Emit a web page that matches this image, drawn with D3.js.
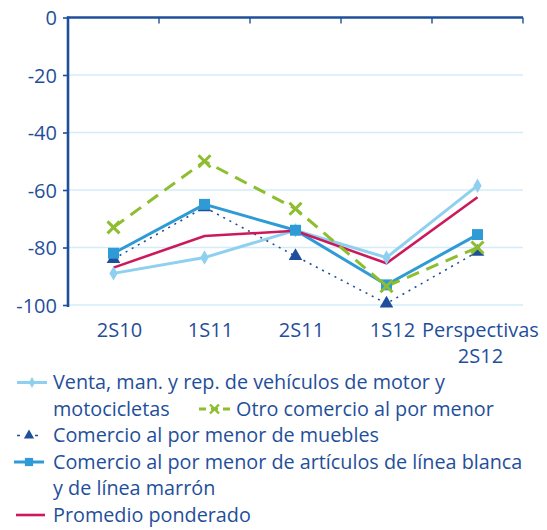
<!DOCTYPE html>
<html>
<head>
<meta charset="utf-8">
<script src="https://cdn.jsdelivr.net/npm/d3@7"></script>
<style>
  html, body { margin: 0; padding: 0; background: #fff; }
  svg { display: block; font-family: "Open Sans", Lato, sans-serif; }
</style>
</head>
<body>
<svg id="chart" width="547" height="530"></svg>
<script>
// Periods on the category axis
const categories = ["2S10", "1S11", "2S11", "1S12", "Perspectivas 2S12"];
const categoryLines = [["2S10"], ["1S11"], ["2S11"], ["1S12"], ["Perspectivas", "2S12"]];

// Balance values per series
const vehiculos = [-89, -83.5, -74, -83.5, -58.5];
const otroComercio = [-73, -50, -66.5, -93.5, -80];
const muebles = [-84, -66, -83, -99.5, -81.5];
const lineaBlanca = [-82, -65, -74, -93, -75.5];
const promedio = [-87, -76, -74.2, -85.5, -62.5];

const yTicks = [0, -20, -40, -60, -80, -100];

const textColor = "#1f4f9a";

const series = [
  { key: "vehiculos", values: vehiculos, color: "#8fd0f1", width: 3, dash: null, marker: "diamond" },
  { key: "muebles", values: muebles, color: "#1f4f9a", width: 1.6, dash: "2,5", marker: "triangle" },
  { key: "blanca", values: lineaBlanca, color: "#2e9bd6", width: 3, dash: null, marker: "square" },
  { key: "promedio", values: promedio, color: "#cc195b", width: 2.6, dash: null, marker: null },
  { key: "otro", values: otroComercio, color: "#8cbe2f", width: 3, dash: "13,8", marker: "cross" }
];
const byKey = Object.fromEntries(series.map(s => [s.key, s]));

const svg = d3.select("#chart");

const x = d3.scaleBand().domain(categories).range([68, 523]);
const y = d3.scaleLinear().domain([-100, 0]).range([305, 17.5]);
const cx = c => x(c) + x.bandwidth() / 2;

// Horizontal gridlines
svg.append("g").selectAll("line")
  .data(yTicks.filter(t => t !== 0))
  .join("line")
  .attr("x1", x.range()[0]).attr("x2", x.range()[1])
  .attr("y1", d => y(d)).attr("y2", d => y(d))
  .attr("stroke", "#d3ecf9").attr("stroke-width", 1.5);

// Value axis on the left
const yAxis = svg.append("g")
  .attr("transform", `translate(${x.range()[0]},0)`)
  .call(d3.axisLeft(y).tickValues(yTicks).tickSize(5).tickPadding(6));
yAxis.select(".domain").attr("stroke", textColor).attr("stroke-width", 2.6)
  .attr("d", "M0," + (y(0) - 1) + "V" + (y(-100) + 2));
yAxis.selectAll(".tick line").attr("stroke", textColor).attr("stroke-width", 1.6);
yAxis.selectAll(".tick text")
  .attr("fill", textColor).attr("font-size", 20).attr("font-family", "Open Sans, sans-serif")
  .attr("dy", "0.36em").text(d => d === 0 ? "0" : "-" + Math.abs(d));

// Category axis drawn at zero (top), ticks between bands
const catBounds = categories.map(c => x(c)).concat([x.range()[1]]);
svg.append("line")
  .attr("x1", x.range()[0] - 1).attr("x2", x.range()[1])
  .attr("y1", y(0)).attr("y2", y(0))
  .attr("stroke", textColor).attr("stroke-width", 2.6);
svg.append("g").selectAll("line")
  .data(catBounds.slice(1))
  .join("line")
  .attr("x1", d => d).attr("x2", d => d)
  .attr("y1", y(0)).attr("y2", y(0) + 6)
  .attr("stroke", textColor).attr("stroke-width", 1.4);

// Category labels below the plot
const labels = svg.append("g").attr("fill", textColor).attr("font-size", 20).attr("text-anchor", "middle");
categories.forEach((c, i) => {
  const lx = cx(c) + (i === 4 ? 3 : 6);
  const t = labels.append("text").attr("x", lx).attr("y", 337);
  categoryLines[i].forEach((ln, j) => {
    t.append("tspan").attr("x", lx).attr("dy", j === 0 ? 0 : 26).text(ln);
  });
});

// Marker shapes
function drawMarker(g, type, color, px, py, scale) {
  const s = scale || 1;
  if (type === "diamond") {
    g.append("path").attr("d", d3.symbol(d3.symbolDiamond, 60 * s * s)()).attr("transform", `translate(${px},${py})`).attr("fill", color);
  } else if (type === "triangle") {
    g.append("path").attr("d", d3.symbol(d3.symbolTriangle, 80 * s * s)()).attr("transform", `translate(${px},${py})`).attr("fill", color);
  } else if (type === "square") {
    g.append("path").attr("d", d3.symbol(d3.symbolSquare, 120 * s * s)()).attr("transform", `translate(${px},${py})`).attr("fill", color);
  } else if (type === "cross") {
    const r = 6 * s;
    g.append("path").attr("d", `M${px - r},${py - r}L${px + r},${py + r}M${px - r},${py + r}L${px + r},${py - r}`)
      .attr("stroke", color).attr("stroke-width", 3 * Math.max(s, 0.8)).attr("fill", "none");
  }
}

const line = d3.line().x((d, i) => cx(categories[i])).y(d => y(d));
const plot = svg.append("g");

series.forEach(s => {
  plot.append("path")
    .attr("d", line(s.values))
    .attr("fill", "none")
    .attr("stroke", s.color)
    .attr("stroke-width", s.width)
    .attr("stroke-dasharray", s.dash)
    .attr("stroke-linejoin", "miter");
});
series.forEach(s => {
  if (!s.marker) return;
  const g = plot.append("g");
  s.values.forEach((v, i) => drawMarker(g, s.marker, s.color, cx(categories[i]), y(v)));
});

// Legend
const legend = svg.append("g").attr("font-size", 19.8).attr("fill", textColor);

function legendKey(s, x0, x1, yy) {
  const g = legend.append("g");
  g.append("line").attr("x1", x0).attr("x2", x1).attr("y1", yy).attr("y2", yy)
    .attr("stroke", s.color).attr("stroke-width", s.width)
    .attr("stroke-dasharray", s.dash ? (s.marker === "triangle" ? "3,6" : "7,5") : null);
  if (s.marker) drawMarker(g, s.marker, s.color, (x0 + x1) / 2, yy, 0.75);
}

const baselines = [389, 415.5, 442, 468.5, 495, 521.5];
const keyY = b => b - 6.5;

legendKey(byKey.vehiculos, 17, 47, keyY(baselines[0]));
legend.append("text").attr("x", 53).attr("y", baselines[0]).text("Venta, man. y rep. de vehículos de motor y");
legend.append("text").attr("x", 53).attr("y", baselines[1]).text("motocicletas");
legendKey(byKey.otro, 199, 230, keyY(baselines[1]));
legend.append("text").attr("x", 236).attr("y", baselines[1]).text("Otro comercio al por menor");
legendKey(byKey.muebles, 17, 41, keyY(baselines[2]));
legend.append("text").attr("x", 53).attr("y", baselines[2]).text("Comercio al por menor de muebles");
legendKey(byKey.blanca, 14, 44, keyY(baselines[3]));
legend.append("text").attr("x", 53).attr("y", baselines[3]).text("Comercio al por menor de artículos de línea blanca");
legend.append("text").attr("x", 53).attr("y", baselines[4]).text("y de línea marrón");
legendKey(byKey.promedio, 16, 45, keyY(baselines[5]));
legend.append("text").attr("x", 53).attr("y", baselines[5]).text("Promedio ponderado");
</script>
</body>
</html>
